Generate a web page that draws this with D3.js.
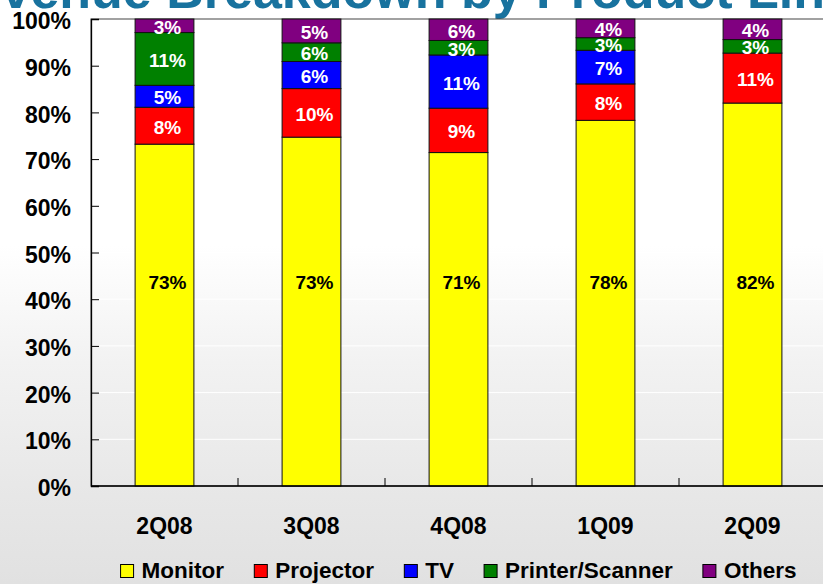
<!DOCTYPE html>
<html>
<head>
<meta charset="utf-8">
<title>Revenue Breakdown by Product Line</title>
<script src="https://cdn.jsdelivr.net/npm/d3@7"></script>
<style>
  html, body { margin: 0; padding: 0; }
  body { width: 823px; height: 584px; overflow: hidden; }
  svg text { font-family: "Liberation Sans", Arial, Helvetica, sans-serif; font-weight: bold; }
</style>
</head>
<body>
<div id="chart"></div>
<script>
// quarters on the x axis
var quarters = ["2Q08", "3Q08", "4Q08", "1Q09", "2Q09"];
var products = ["Monitor", "Projector", "TV", "Printer/Scanner", "Others"];
var colors = ["#ffff00", "#ff0000", "#0000ff", "#008000", "#800080"];

// share of revenue (%)
var monitor   = [73.2, 74.7, 71.4, 78.3, 82.0];
var projector = [7.9, 10.4, 9.5, 7.8, 10.7];
var tv        = [4.7, 5.8, 11.4, 7.2, 0];
var printer   = [11.3, 4.0, 3.1, 2.7, 2.9];
var others    = [2.9, 5.1, 4.6, 4.0, 4.4];

// data labels as printed on the slide
var monitorLbl   = ["73%", "73%", "71%", "78%", "82%"];
var projectorLbl = ["8%", "10%", "9%", "8%", "11%"];
var tvLbl        = ["5%", "6%", "11%", "7%", ""];
var printerLbl   = ["11%", "6%", "3%", "3%", "3%"];
var othersLbl    = ["3%", "5%", "6%", "4%", "4%"];

var yTicks = [0, 10, 20, 30, 40, 50, 60, 70, 80, 90, 100];
var monitorLabelAt = 44; // monitor labels all sit at the same height

var series = [monitor, projector, tv, printer, others];
var labels = [monitorLbl, projectorLbl, tvLbl, printerLbl, othersLbl];

var W = 823, H = 584;
var margin = {left: 91, top: 19, bottom: 98};
var plotW = 735, plotH = H - margin.top - margin.bottom;

var svg = d3.select("#chart").append("svg").attr("width", W).attr("height", H);

// slide background
var defs = svg.append("defs");
var grad = defs.append("linearGradient").attr("id", "bg")
  .attr("x1", 0).attr("y1", 0).attr("x2", 0).attr("y2", 1);
grad.append("stop").attr("offset", "0%").attr("stop-color", "#ffffff");
grad.append("stop").attr("offset", "42%").attr("stop-color", "#ffffff");
grad.append("stop").attr("offset", "62%").attr("stop-color", "#f2f2f2");
grad.append("stop").attr("offset", "85%").attr("stop-color", "#e7e7e7");
grad.append("stop").attr("offset", "100%").attr("stop-color", "#e1e1e1");
svg.append("rect").attr("width", W).attr("height", H).attr("fill", "url(#bg)");

// title, mostly cut off at the top of the crop
svg.append("text")
  .attr("x", -65).attr("y", 8)
  .attr("fill", "#18729e")
  .style("font-size", "52px")
  .text("Revenue Breakdown by Product Line");

var x = d3.scaleBand().domain(quarters)
  .range([margin.left, margin.left + plotW])
  .paddingInner(0.6).paddingOuter(0.3);
var y = d3.scaleLinear().domain([0, 100]).range([margin.top + plotH, margin.top]);

// white gridlines
svg.append("g").selectAll("line")
  .data(yTicks.filter(function(d) { return d > 0 && d < 100; }))
  .enter().append("line")
  .attr("x1", margin.left).attr("x2", margin.left + plotW)
  .attr("y1", function(d) { return y(d); }).attr("y2", function(d) { return y(d); })
  .attr("stroke", "#ffffff").attr("stroke-width", 1);

// plot border (top / right)
svg.append("rect")
  .attr("x", margin.left).attr("y", margin.top)
  .attr("width", plotW).attr("height", plotH)
  .attr("fill", "none").attr("stroke", "#444").attr("stroke-width", 1);

// stack the series
var rows = quarters.map(function(q, i) {
  var r = {quarter: q};
  products.forEach(function(p, k) { r[p] = series[k][i]; });
  return r;
});
var stacked = d3.stack().keys(products)(rows);

var layers = svg.append("g").selectAll("g")
  .data(stacked).enter().append("g")
  .attr("fill", function(d, k) { return colors[k]; });

layers.selectAll("rect")
  .data(function(d) { return d; })
  .enter().append("rect")
  .attr("x", function(d) { return x(d.data.quarter); })
  .attr("width", x.bandwidth())
  .attr("y", function(d) { return y(d[1]); })
  .attr("height", function(d) { return y(d[0]) - y(d[1]); })
  .attr("stroke", "#111").attr("stroke-width", 1)
  .style("display", function(d) { return d[1] - d[0] > 0 ? null : "none"; });

// segment labels
stacked.forEach(function(layer, k) {
  svg.append("g").selectAll("text")
    .data(layer).enter().append("text")
    .attr("x", function(d) { return x(d.data.quarter) + x.bandwidth() / 2 + 3; })
    .attr("y", function(d) {
      var v = k === 0 ? monitorLabelAt : (d[0] + d[1]) / 2;
      return y(v) + 8;
    })
    .attr("text-anchor", "middle")
    .attr("fill", k === 0 ? "#000" : "#fff")
    .style("font-size", "19px")
    .text(function(d, i) { return labels[k][i]; });
});

// y axis
var yAxis = d3.axisLeft(y).tickValues(yTicks).tickSize(-8).tickPadding(20)
  .tickFormat(function(d) { return d + "%"; });
var gy = svg.append("g").attr("transform", "translate(" + margin.left + ",0)").call(yAxis);
gy.select(".domain").attr("stroke", "#000").attr("stroke-width", 1.3);
gy.selectAll(".tick line").attr("stroke", "#000");
gy.selectAll(".tick text")
  .attr("fill", "#000").attr("dy", "0.42em")
  .style("font-size", "23px").style("font-family", "'Liberation Sans', Arial, sans-serif")
  .style("font-weight", "bold");

// x axis baseline with inward ticks at category boundaries
var base = y(0);
svg.append("line")
  .attr("x1", margin.left).attr("x2", margin.left + plotW)
  .attr("y1", base).attr("y2", base)
  .attr("stroke", "#000").attr("stroke-width", 1.3);
svg.append("g").selectAll("line")
  .data(quarters.slice(1)).enter().append("line")
  .attr("x1", function(d) { return x(d) - x.step() * x.paddingInner() / 2; })
  .attr("x2", function(d) { return x(d) - x.step() * x.paddingInner() / 2; })
  .attr("y1", base).attr("y2", base - 8)
  .attr("stroke", "#000");

svg.append("g").selectAll("text")
  .data(quarters).enter().append("text")
  .attr("x", function(d) { return x(d) + x.bandwidth() / 2; })
  .attr("y", 534)
  .attr("text-anchor", "middle")
  .attr("fill", "#000")
  .style("font-size", "23px")
  .text(function(d) { return d; });

// legend, centred under the plot
var legend = svg.append("g");
var items = legend.selectAll("g").data(products).enter().append("g");
items.append("rect")
  .attr("width", 13).attr("height", 13).attr("y", 564.5)
  .attr("fill", function(d, k) { return colors[k]; })
  .attr("stroke", "#000").attr("stroke-width", 1);
items.append("text")
  .attr("x", 21).attr("y", 578)
  .attr("fill", "#000")
  .style("font-size", "22.5px")
  .text(function(d) { return d; });
var pos = 0;
items.each(function() {
  var w = this.getBBox().width;
  d3.select(this).attr("transform", "translate(" + pos + ",0)");
  pos += w + 30;
});
var legendW = pos - 30;
legend.attr("transform", "translate(" + (margin.left + plotW / 2 - legendW / 2) + ",0)");
</script>
</body>
</html>
